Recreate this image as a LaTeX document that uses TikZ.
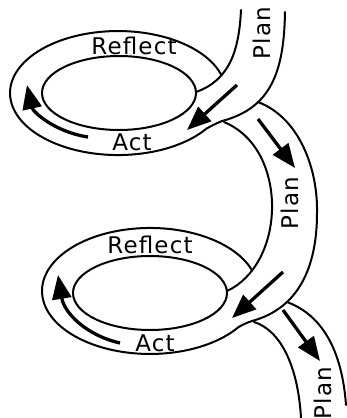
\documentclass[tikz,border=0pt]{standalone}
\usepackage{fontspec}
\newfontfamily\lblfont{DejaVu Sans}[LetterSpace=5]
\usetikzlibrary{arrows.meta}
\begin{document}
\begin{tikzpicture}[x=1pt,y=-1pt,
  edge/.style={line width=2pt, line cap=round, line join=round},
  flow/.style={line width=3.3pt, -{Triangle[length=24pt,width=19pt]}},
  lbl/.style={font={\lblfont\fontsize{23pt}{23pt}\selectfont}, inner sep=0pt}]
\useasboundingbox (0,0) rectangle (346,418);

% ---- top loop ----
\draw[edge] (119,93) ellipse [x radius=77pt, y radius=37pt];
\draw[edge] (285,12) .. controls (284,70) and (272,108) .. (222,121)
  .. controls (215,124) and (211,126) .. (206.5,128.6)
  arc[start angle=-35, end angle=-343, x radius=108pt, y radius=62pt];
\draw[edge] (241,10) .. controls (239,50) and (230,80) .. (196,92);

% ---- middle band ----
\draw[edge] (224,122) .. controls (262,138) and (273,180) .. (272,210)
  .. controls (271,245) and (255,278) .. (227,291);

% ---- bottom loop ----
\draw[edge] (150,293) ellipse [x radius=77pt, y radius=37pt];
\draw[edge] (258,102) .. controls (300,118) and (318,170) .. (317,213)
  .. controls (317,265) and (300,308) .. (252,321)
  .. controls (246,323) and (242,325) .. (238.5,327.1)
  arc[start angle=-35, end angle=-341, x radius=108pt, y radius=63pt];

% ---- bottom out band ----
\draw[edge] (254,322) .. controls (280,330) and (298,365) .. (301,418);
\draw[edge] (287,302) .. controls (322,315) and (342,350) .. (346,405);

% ---- arrows ----
\coordinate (a1s) at (237,85);  \coordinate (a1e) at (187,130);
\coordinate (a2s) at (88,137);  \coordinate (a2e) at (27,85);
\coordinate (a3s) at (258,119); \coordinate (a3e) at (295,168);
\coordinate (a4s) at (283,272); \coordinate (a4e) at (232,318);
\coordinate (a5s) at (120,343); \coordinate (a5e) at (58,275);
\coordinate (a6s) at (283,310); \coordinate (a6e) at (320,361);
\draw[flow] (a1s) -- (a1e);
\draw[flow] (a2s) .. controls (55,132) and (33,112) .. (a2e);
\draw[flow] (a3s) -- (a3e);
\draw[flow] (a4s) -- (a4e);
\draw[flow] (a5s) .. controls (85,335) and (64,312) .. (a5e);
\draw[flow] (a6s) -- (a6e);

% ---- labels ----
\node[lbl] (reflect1) at (134,46) {Reflect};
\node[lbl] (act1) at (132,142) {Act};
\node[lbl, rotate=90] (plan1) at (262,33) {Plan};
\node[lbl, rotate=90] (plan2) at (290,203) {Plan};
\node[lbl] (reflect2) at (150,245) {Reflect};
\node[lbl] (act2) at (155,343) {Act};
\node[lbl, rotate=90] (plan3) at (323,393) {Plan};
\end{tikzpicture}
\end{document}
